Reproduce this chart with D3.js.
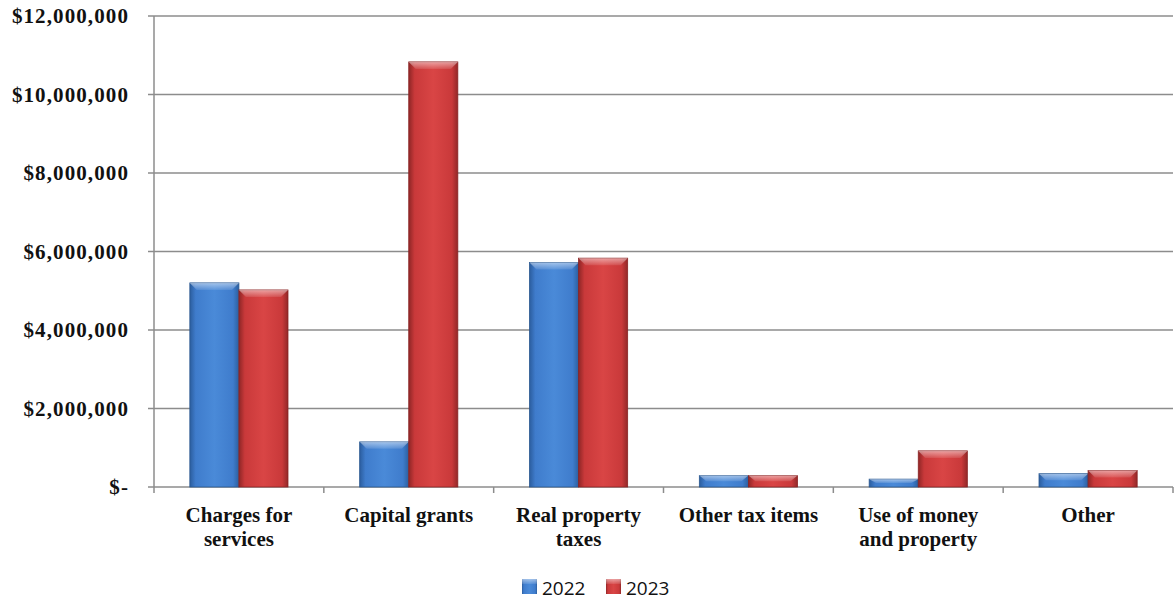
<!DOCTYPE html>
<html>
<head>
<meta charset="utf-8">
<script src="https://cdn.jsdelivr.net/npm/d3@7"></script>
<style>
  body { margin: 0; background: #fff; }
  svg { display: block; }
</style>
</head>
<body>
<svg id="chart"></svg>
<script>
// chart data
let categories = [["Charges for", "services"], ["Capital grants"], ["Real property", "taxes"],
                  ["Other tax items"], ["Use of money", "and property"], ["Other"]];
let series = ["2022", "2023"];
let values2022 = [5200000, 1150000, 5720000, 290000, 200000, 340000];
let values2023 = [5020000, 10830000, 5830000, 290000, 920000, 420000];
let yTicks = [0, 2000000, 4000000, 6000000, 8000000, 10000000, 12000000];

let svgWidth = 1175, svgHeight = 602;
let plotLeft = 154, plotRight = 1173, plotTop = 16, plotBottom = 487;

let svg = d3.select("#chart")
  .attr("width", svgWidth)
  .attr("height", svgHeight);

let defs = svg.append("defs");
let colors = {
  "2022": ["#2b5d9e", "#3f7ccc", "#4a8ad8", "#2c5f9f"],
  "2023": ["#8f2626", "#c9393a", "#d94545", "#922828"]
};
series.forEach(s => {
  let g = defs.append("linearGradient").attr("id", "g" + s)
    .attr("x1", "0").attr("x2", "1").attr("y1", "0").attr("y2", "0");
  g.append("stop").attr("offset", "0%").attr("stop-color", colors[s][0]);
  g.append("stop").attr("offset", "12%").attr("stop-color", colors[s][1]);
  g.append("stop").attr("offset", "50%").attr("stop-color", colors[s][2]);
  g.append("stop").attr("offset", "88%").attr("stop-color", colors[s][1]);
  g.append("stop").attr("offset", "100%").attr("stop-color", colors[s][3]);
});
let hl = defs.append("linearGradient").attr("id", "hl")
  .attr("x1", "0").attr("x2", "0").attr("y1", "0").attr("y2", "1");
hl.append("stop").attr("offset", "0%").attr("stop-color", "#fff").attr("stop-opacity", 0.5);
hl.append("stop").attr("offset", "100%").attr("stop-color", "#fff").attr("stop-opacity", 0.1);

let x = d3.scaleBand()
  .domain(d3.range(categories.length))
  .range([plotLeft, plotRight])
  .paddingInner(0)
  .paddingOuter(0);

let xInner = d3.scaleBand()
  .domain(series)
  .range([0, x.bandwidth()])
  .paddingOuter(0.73);

let y = d3.scaleLinear()
  .domain([0, 12000000])
  .range([plotBottom, plotTop]);

// gridlines
svg.append("g")
  .selectAll("line")
  .data(yTicks)
  .enter()
  .append("line")
  .attr("x1", plotLeft - 6)
  .attr("x2", plotRight)
  .attr("y1", d => y(d))
  .attr("y2", d => y(d))
  .attr("stroke", "#8c8c8c")
  .attr("stroke-width", 1.5);

// y axis line
svg.append("line")
  .attr("x1", plotLeft).attr("x2", plotLeft)
  .attr("y1", plotTop).attr("y2", plotBottom)
  .attr("stroke", "#8c8c8c").attr("stroke-width", 1.5);

// category ticks
svg.append("g")
  .selectAll("line")
  .data(d3.range(categories.length + 1))
  .enter()
  .append("line")
  .attr("x1", i => i < categories.length ? x(i) : plotRight)
  .attr("x2", i => i < categories.length ? x(i) : plotRight)
  .attr("y1", plotBottom)
  .attr("y2", plotBottom + 6)
  .attr("stroke", "#8c8c8c").attr("stroke-width", 1.5);

// y labels
let fmt = d => d === 0 ? "$-" : "$" + d3.format(",")(d);
svg.append("g")
  .selectAll("text")
  .data(yTicks)
  .enter()
  .append("text")
  .attr("x", 129)
  .attr("y", d => y(d) + 7)
  .attr("text-anchor", "end")
  .attr("font-family", "Liberation Serif, serif")
  .attr("font-weight", "bold")
  .attr("font-size", 21)
  .attr("letter-spacing", 1.1)
  .attr("fill", "#111")
  .text(fmt);

// bars
let data = [];
categories.forEach((c, i) => {
  data.push({ i: i, s: "2022", v: values2022[i] });
  data.push({ i: i, s: "2023", v: values2023[i] });
});

let bars = svg.append("g")
  .selectAll("g")
  .data(data)
  .enter()
  .append("g")
  .attr("transform", d => "translate(" + (x(d.i) + xInner(d.s)) + ",0)");

bars.append("rect")
  .attr("x", 0)
  .attr("y", d => y(d.v))
  .attr("width", xInner.bandwidth())
  .attr("height", d => plotBottom - y(d.v))
  .attr("fill", d => "url(#g" + d.s + ")")
  .attr("stroke", d => d.s === "2022" ? "#2a5890" : "#8a2424")
  .attr("stroke-width", 0.8);

// top bevel
bars.append("path")
  .attr("d", d => {
    let w = xInner.bandwidth(), t = y(d.v), h = Math.min(7, (plotBottom - t) / 2);
    return "M0," + t + "L" + w + "," + t + "L" + (w - 7) + "," + (t + h) + "L7," + (t + h) + "Z";
  })
  .attr("fill", "url(#hl)");

// x labels
let xl = svg.append("g")
  .selectAll("g")
  .data(categories)
  .enter()
  .append("g")
  .attr("transform", (d, i) => "translate(" + (x(i) + x.bandwidth() / 2) + ",522)");

xl.selectAll("text")
  .data(d => d)
  .enter()
  .append("text")
  .attr("x", 0)
  .attr("y", (d, j) => j * 24)
  .attr("text-anchor", "middle")
  .attr("font-family", "Liberation Serif, serif")
  .attr("font-weight", "bold")
  .attr("font-size", 21)
  .attr("fill", "#111")
  .text(d => d);

// legend
let legend = svg.append("g").attr("transform", "translate(522,579)");
series.forEach((s, k) => {
  let lg = legend.append("g").attr("transform", "translate(" + (k * 84) + ",0)");
  lg.append("rect")
    .attr("width", 15).attr("height", 15)
    .attr("fill", "url(#g" + s + ")");
  lg.append("rect")
    .attr("width", 15).attr("height", 5)
    .attr("fill", "url(#hl)");
  lg.append("text")
    .attr("x", 20).attr("y", 15.5)
    .attr("font-family", "Open Sans, sans-serif")
    .attr("font-size", 19)
    .attr("fill", "#111")
    .text(s);
});
</script>
</body>
</html>
